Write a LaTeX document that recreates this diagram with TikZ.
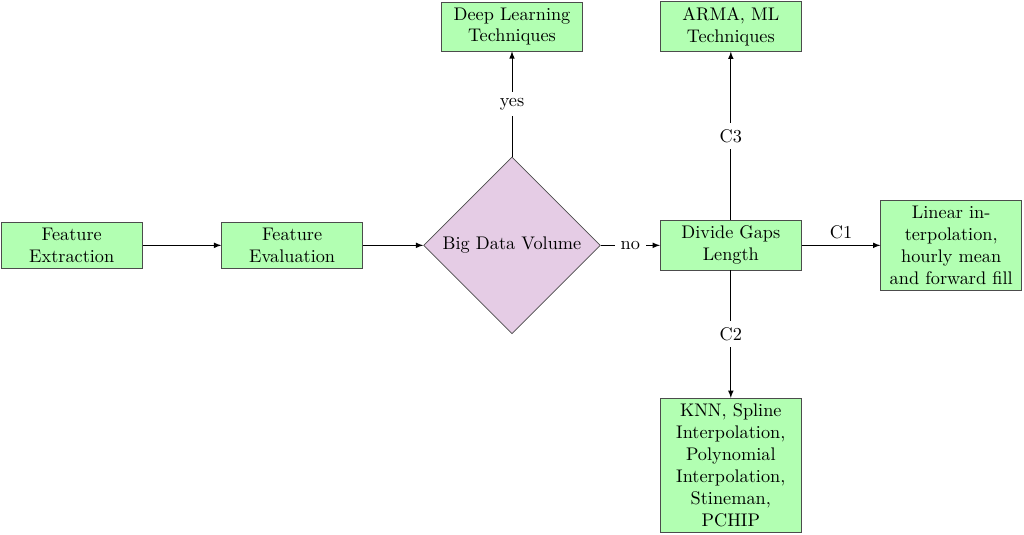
\documentclass[tikz,border=0pt]{standalone}
\usepackage{amsmath}
\usepackage{amssymb}
\usepackage{tikz}
\usepackage{xcolor}
\usetikzlibrary{shapes.geometric,arrows}

\tikzset{
	block/.style={draw=black!70,fill=green!30,text width=2.5cm,align=center,minimum height=0.9cm,inner sep=3pt},
	decision/.style={diamond,draw=black!70,fill=violet!20,minimum width=3.4cm,minimum height=3.4cm,inner sep=0pt,aspect=1},
	line/.style={draw,->,>=latex}
}

\begin{document}
\begin{tikzpicture}
					\useasboundingbox (-9.85,-5.56) rectangle (9.85,4.72);
					\node[block] (extract) at (-8.47,0){Feature Extraction};
					\node[block] (evaluate) at (-4.23,0){Feature Evaluation};
					\node[decision] (volume) at (0,0){Big Data Volume};
					\node[block] (deep) at (0,4.21){Deep Learning Techniques};
					\node[block] (gaps) at (4.21,0){Divide Gaps Length};
					\node[block] (arma) at (4.21,4.21){ARMA, ML Techniques};
					\node[block] (linear) at (8.45,0){Linear interpolation, hourly mean and forward fill};
					\node[block] (knn) at (4.21,-4.23){KNN, Spline Interpolation, Polynomial Interpolation, Stineman, PCHIP};
					\draw[line] (extract)--(evaluate);
					\draw[line] (evaluate)--(volume);
					\draw[line] (volume)--node[fill=white]{yes}(deep);
					\draw[line] (volume)--node[fill=white]{no}(gaps);
					\draw[line] (gaps)--node[fill=white]{C3}(arma);
					\draw[line] (gaps)--node[above]{C1}(linear);
					\draw[line] (gaps)--node[fill=white]{C2}(knn);
				\end{tikzpicture}
\end{document}
